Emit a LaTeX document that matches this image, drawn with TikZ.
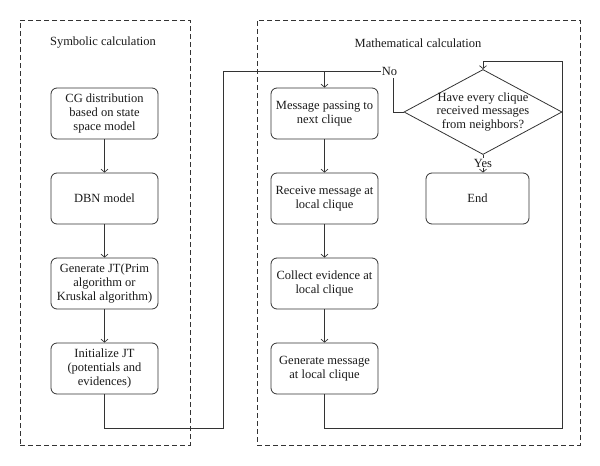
\documentclass[tikz,border=0pt]{standalone}
\usepackage{fontspec}
\setmainfont{Liberation Serif}
\usetikzlibrary{arrows.meta,shapes.geometric}
\definecolor{linec}{HTML}{333333}
\definecolor{textc}{HTML}{1A1A1A}
\begin{document}
\begin{tikzpicture}[x=1pt,y=-1pt,
  font=\fontsize{12.5}{14}\selectfont, text=textc,
  every path/.style={line width=0.8pt},
  ln/.style={draw=linec},
  box/.style={draw=linec, rounded corners=6pt, minimum width=107pt, minimum height=51pt, align=center, inner sep=2pt},
  frame/.style={draw=linec, dash pattern=on 5pt off 3pt, line width=0.7pt},
  arr/.style={draw=linec, -{Straight Barb[length=3pt,width=7pt,line width=0.7pt]}},
  lbl/.style={inner sep=0pt}]
\useasboundingbox (0,0) rectangle (600,466);
% frames
\node[frame, minimum width=170pt, minimum height=425pt] (fl) at (105,232.5) {};
\node[frame, minimum width=323pt, minimum height=425pt] (fr) at (418.5,232.5) {};
\node[lbl] (tl) at (103,43) {Symbolic calculation};
\node[lbl] (tr) at (418,43) {Mathematical calculation};
% left column
\node[box] (a1) at (104.5,113.5) {CG distribution\\based on state\\space model};
\node[box] (a2) at (104.5,198.5) {DBN model};
\node[box] (a3) at (104.5,283.5) {Generate JT(Prim\\algorithm or\\Kruskal algorithm)};
\node[box] (a4) at (104.5,368.5) {Initialize JT\\(potentials and\\evidences)};
% right column
\node[box] (b1) at (324.5,113.5) {Message passing to\\next clique};
\node[box] (b2) at (324.5,198.5) {Receive message at\\local clique};
\node[box] (b3) at (324.5,283.5) {Collect evidence at\\local clique};
\node[box] (b4) at (324.5,368.5) {Generate message\\at local clique};
% decision
\node[diamond, draw=linec, minimum width=158pt, minimum height=85pt, inner sep=0pt] (d) at (483,112) {};
\node[lbl, align=center, font=\fontsize{12.5}{13.5}\selectfont] (dt) at (d.center) {Have every clique\\received messages\\from neighbors?};
\node[box, minimum width=103pt] (e) at (477.5,198.5) {End};
\node[lbl] (no) at (389.5,71) {No};
\node[lbl] (yes) at (483,163) {Yes};
% junctions
\coordinate (j1) at (223,428);
\coordinate (j2) at (223,71);
\coordinate (j3) at (393,78);
\coordinate (k1) at (562,428);
\coordinate (k2) at (562,61);
% connectors
\draw[arr] (a1) -- (a2);
\draw[arr] (a2) -- (a3);
\draw[arr] (a3) -- (a4);
\draw[ln] (a4.south) |- (j1) -- (j2) -- (no.west);
\draw[arr] (b1.north |- j2) -- (b1.north);
\draw[ln] (d.west) -| (j3);
\draw[arr] (b1) -- (b2);
\draw[arr] (b2) -- (b3);
\draw[arr] (b3) -- (b4);
\draw[arr] (b4.south) |- (k1) -- (k2) -| (d.north);
\draw[ln] (d.south) -- (yes.north);
\draw[arr] (yes.south) -- (yes.south |- e.north);
\end{tikzpicture}
\end{document}
